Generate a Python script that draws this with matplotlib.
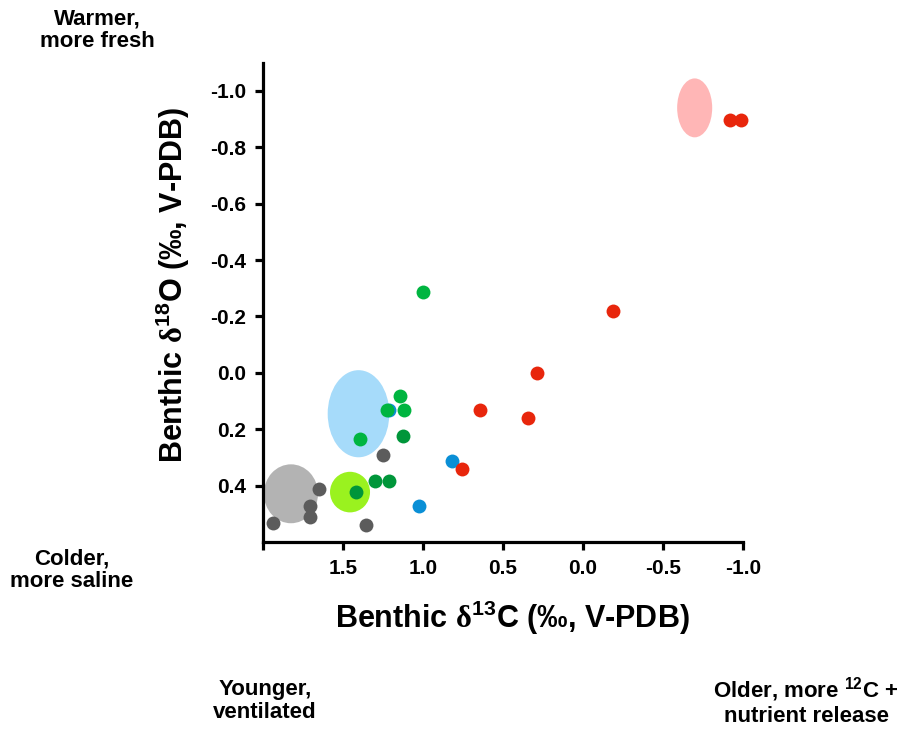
import matplotlib
matplotlib.use("Agg")
import matplotlib.pyplot as plt
from matplotlib.patches import Ellipse

plt.rcParams["font.family"] = ["Liberation Sans", "DejaVu Sans"]
plt.rcParams["font.weight"] = "bold"
plt.rcParams["mathtext.fontset"] = "custom"
plt.rcParams["mathtext.bf"] = "Liberation Sans:bold"
plt.rcParams["mathtext.rm"] = "Liberation Serif"

# data (d13C, d18O)
grey_x = [1.648, 1.709, 1.709, 1.938, 1.356, 1.248]
grey_y = [0.412, 0.471, 0.512, 0.531, 0.540, 0.291]

green_x = [1.144, 1.228, 1.117, 1.396, 0.998]
green_y = [0.081, 0.132, 0.132, 0.234, -0.287]

dkgreen_x = [1.125, 1.298, 1.215, 1.417]
dkgreen_y = [0.223, 0.382, 0.382, 0.422]

blue_x = [1.21, 0.819, 1.023]
blue_y = [0.132, 0.311, 0.472]

red_x = [0.29, -0.185, 0.646, 0.346, 0.756, -0.919, -0.988]
red_y = [0.0, -0.218, 0.132, 0.161, 0.342, -0.898, -0.898]

# group means (centre x, centre y, width, height)
ell_x = [1.825, 1.403, 1.456, -0.697]
ell_y = [0.429, 0.145, 0.423, -0.940]
ell_w = [0.338, 0.385, 0.25, 0.219]
ell_h = [0.209, 0.309, 0.144, 0.209]
ell_c = ["#b3b3b3", "#a6dbfa", "#9af21f", "#ffb6b6"]

xticks = [2.0, 1.5, 1.0, 0.5, 0.0, -0.5, -1.0]
xlabels = ["", "1.5", "1.0", "0.5", "0.0", "-0.5", "-1.0"]
yticks = [-1.0, -0.8, -0.6, -0.4, -0.2, 0.0, 0.2, 0.4]

fig = plt.figure(figsize=(9.13, 7.35), dpi=100)
ax = fig.add_axes([0.288, 0.2626, 0.526, 0.652])

for x, y, w, h, c in zip(ell_x, ell_y, ell_w, ell_h, ell_c):
    ax.add_patch(Ellipse((x, y), w, h, facecolor=c, edgecolor="none", zorder=1))

s = 100
ax.scatter(grey_x, grey_y, s=s, color="#5c5c5c", linewidths=0, zorder=3, clip_on=False)
ax.scatter(blue_x, blue_y, s=s, color="#0a8fd6", linewidths=0, zorder=3, clip_on=False)
ax.scatter(green_x, green_y, s=s, color="#00b540", linewidths=0, zorder=4, clip_on=False)
ax.scatter(dkgreen_x, dkgreen_y, s=s, color="#00963a", linewidths=0, zorder=4, clip_on=False)
ax.scatter(red_x, red_y, s=s, color="#e8260c", linewidths=0, zorder=3, clip_on=False)

ax.set_xlim(2.0, -1.0)
ax.set_ylim(0.6, -1.1)
ax.set_xticks(xticks)
ax.set_xticklabels(xlabels)
ax.set_yticks(yticks)
ax.set_yticklabels([f"{v:.1f}" for v in yticks])

for sp in ["top", "right"]:
    ax.spines[sp].set_visible(False)
for sp in ["left", "bottom"]:
    ax.spines[sp].set_linewidth(2.3)
ax.tick_params(width=2.3, length=6, labelsize=15, pad=6)
for lab in ax.get_xticklabels() + ax.get_yticklabels():
    lab.set_fontweight("bold")

ax.set_xlabel(r"Benthic $\mathrm{\delta}^{\mathbf{13}}$C (‰, V-PDB)",
              fontsize=22, fontweight="bold")
ax.set_ylabel(r"Benthic $\mathrm{\delta}^{\mathbf{18}}$O (‰, V-PDB)",
              fontsize=22, fontweight="bold")
ax.xaxis.set_label_coords(0.519, -0.118)
ax.yaxis.set_label_coords(-0.148, 0.537)

kw = dict(fontsize=16, fontweight="bold", ha="center", va="center",
          linespacing=1.1)
fig.text(97 / 913, 1 - 30 / 735, "Warmer,\nmore fresh", **kw)
fig.text(72 / 913, 1 - 570 / 735, "Colder,\nmore saline", **kw)
fig.text(265 / 913, 1 - 701 / 735, "Younger,\nventilated", **kw)
fig.text(806 / 913, 1 - 701 / 735, "Older, more $^{\\mathbf{12}}$C +\nnutrient release", **kw)

fig.savefig("out.png", dpi=100)
